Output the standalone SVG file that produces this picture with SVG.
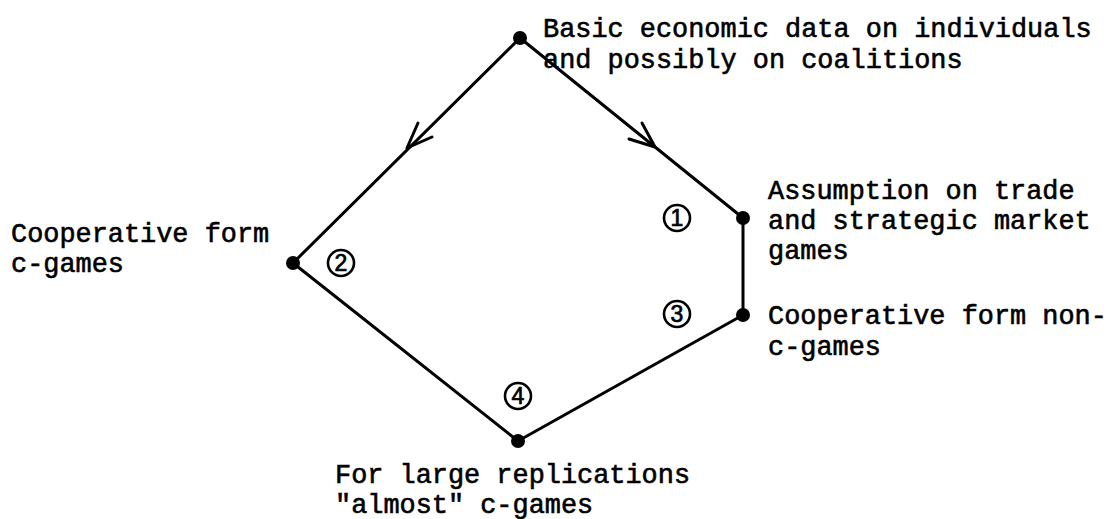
<svg xmlns="http://www.w3.org/2000/svg" width="1107" height="519" viewBox="0 0 1107 519">
<style>
.lbl{font-family:"Liberation Mono","DejaVu Sans Mono",monospace;font-size:26.9px;fill:#000;stroke:#000;stroke-width:0.6}
.edge{stroke:#000;stroke-width:3;fill:none;stroke-linecap:round;stroke-linejoin:round}
.dot{fill:#000}
.num circle{fill:#fff;stroke:#000;stroke-width:2.6}
.num text{font-family:"Liberation Sans","DejaVu Sans",sans-serif;font-size:23px;fill:#000;stroke:#000;stroke-width:0.7;text-anchor:middle}
</style>
<rect width="1107" height="519" fill="#fff"/>
<g id="connectors">
  <path class="edge" d="M520 38 L293 263"/>
  <path class="edge" d="M520 38 L743 218"/>
  <path class="edge" d="M743 218 L743 315"/>
  <path class="edge" d="M743 315 L518 441"/>
  <path class="edge" d="M293 263 L518 441"/>
  <path class="edge" d="M418 123 L407 148 L432 137"/>
  <path class="edge" d="M629 139 L655 147 L642 123"/>
</g>
<g id="node-basic">
  <circle class="dot" cx="520" cy="38" r="7"/>
  <text class="lbl" x="543" y="37">Basic economic data on individuals</text>
  <text class="lbl" x="543" y="68">and possibly on coalitions</text>
</g>
<g id="node-coop-c">
  <circle class="dot" cx="293" cy="263" r="7"/>
  <text class="lbl" x="11" y="242">Cooperative form</text>
  <text class="lbl" x="11" y="272">c-games</text>
</g>
<g id="node-assumption">
  <circle class="dot" cx="743" cy="218" r="7"/>
  <text class="lbl" x="768" y="199">Assumption on trade</text>
  <text class="lbl" x="768" y="229">and strategic market</text>
  <text class="lbl" x="768" y="259">games</text>
</g>
<g id="node-coop-nonc">
  <circle class="dot" cx="743" cy="315" r="7"/>
  <text class="lbl" x="768" y="324">Cooperative form non-</text>
  <text class="lbl" x="768" y="355">c-games</text>
</g>
<g id="node-large">
  <circle class="dot" cx="518" cy="441" r="7"/>
  <text class="lbl" x="335" y="483">For large replications</text>
  <text class="lbl" x="335" y="513">"almost" c-games</text>
</g>
<g id="labels">
  <g class="num"><circle cx="677" cy="218" r="13"/><text x="677" y="226">1</text></g>
  <g class="num"><circle cx="341" cy="263" r="13"/><text x="341" y="271">2</text></g>
  <g class="num"><circle cx="677" cy="314" r="13"/><text x="677" y="322">3</text></g>
  <g class="num"><circle cx="518" cy="396" r="13"/><text x="518" y="404">4</text></g>
</g>
</svg>
